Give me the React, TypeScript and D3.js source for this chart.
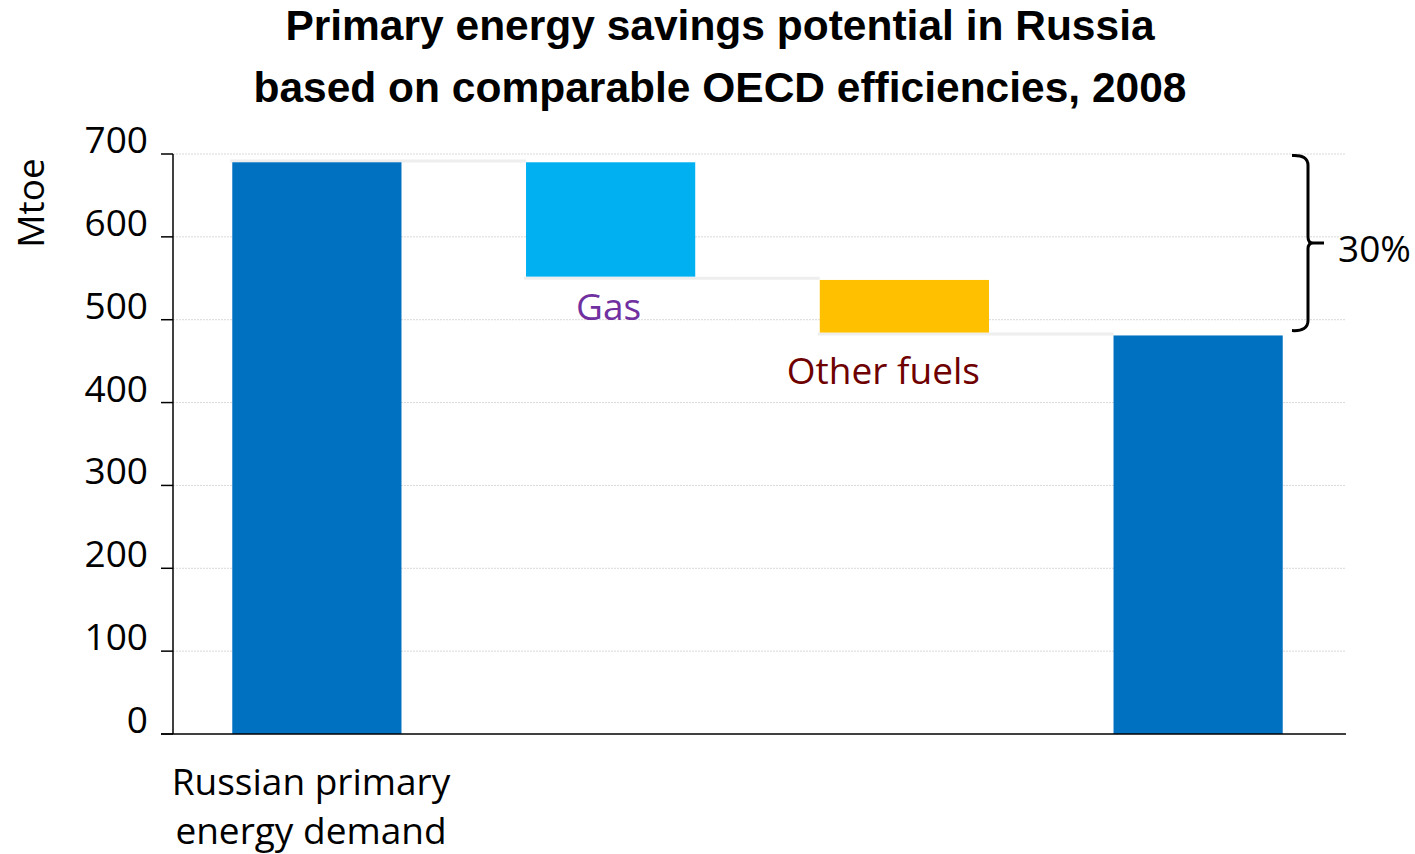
import React from "react";
import * as d3 from "d3";

const titleLines = [
  "Primary energy savings potential in Russia",
  "based on comparable OECD efficiencies, 2008",
];
const categories = ["start", "gas", "other", "end"];
const barTops = [690, 690, 548, 481];
const barBottoms = [0, 552, 484.5, 0];
const barColors = ["#0070C0", "#00B0F0", "#FFC000", "#0070C0"];
const connectorLevels = [691.5, 550, 482.7];
const yTicks = [0, 100, 200, 300, 400, 500, 600, 700];
const firstCategoryLabel = ["Russian primary", "energy demand"];
const barLabels = [
  { cat: "gas", text: "Gas", color: "#7030A0", value: 552 },
  { cat: "other", text: "Other fuels", color: "#6E0000", value: 484.5 },
];
const savingsLabel = "30%";
const yAxisTitle = "Mtoe";

const W = 1415;
const H = 854;
const plotLeft = 173;
const plotRight = 1346;
const plotTop = 154;
const plotBottom = 734;
const bodyFont = "'Open Sans', 'Noto Sans', sans-serif";
const labelOffsets: Record<string, [number, number]> = {
  gas: [-2, 43],
  other: [-21, 51],
};

export default function App() {
  const x = d3
    .scaleBand<string>()
    .domain(categories)
    .range([170, 1345])
    .paddingInner(0.424)
    .paddingOuter(0.212);
  const y = d3.scaleLinear().domain([0, 700]).range([plotBottom, plotTop]);
  const bw = x.bandwidth();

  const by0 = y(700) + 1.5;
  const by1 = y(barBottoms[2]) - 2;
  const bmid = (by0 + by1) / 2;
  const bxX = 1308;

  return (
    <svg
      width={W}
      height={H}
      style={{ position: "absolute", left: 0, top: 0, background: "#fff" }}
    >
      {titleLines.map((t, i) => (
        <text
          key={t}
          x={720}
          y={40 + i * 62}
          textAnchor="middle"
          fontFamily="'Liberation Sans', Arial, sans-serif"
          fontWeight="bold"
          fontSize={42.5}
          fill="#000"
        >
          {t}
        </text>
      ))}

      {yTicks
        .filter((v) => v > 0)
        .map((v) => (
          <line
            key={"g" + v}
            x1={plotLeft}
            x2={plotRight}
            y1={y(v)}
            y2={y(v)}
            stroke="#d9d9d9"
            strokeWidth={1}
            strokeDasharray="2,1"
          />
        ))}

      {connectorLevels.map((lv, i) => (
        <line
          key={"c" + i}
          x1={(x(categories[i]) as number) - 2}
          x2={x(categories[i + 1]) as number}
          y1={y(lv)}
          y2={y(lv)}
          stroke="#eeeeee"
          strokeWidth={3}
        />
      ))}

      {categories.map((c, i) => (
        <rect
          key={c}
          x={x(c) as number}
          width={bw}
          y={y(barTops[i])}
          height={y(barBottoms[i]) - y(barTops[i])}
          fill={barColors[i]}
        />
      ))}

      <line x1={plotLeft} x2={plotLeft} y1={plotTop} y2={plotBottom} stroke="#000" strokeWidth={1.5} />
      <line x1={161} x2={plotRight} y1={plotBottom} y2={plotBottom} stroke="#000" strokeWidth={1.5} />
      {yTicks.map((v) => (
        <g key={"t" + v}>
          <line x1={161} x2={plotLeft} y1={y(v)} y2={y(v)} stroke="#000" strokeWidth={1.5} />
          <text
            x={148}
            y={y(v) - 1}
            textAnchor="end"
            fontFamily={bodyFont}
            fontSize={37}
            fill="#000"
          >
            {v}
          </text>
        </g>
      ))}

      <text
        transform={`translate(44,203) rotate(-90)`}
        textAnchor="middle"
        fontFamily={bodyFont}
        fontSize={37}
        fill="#000"
      >
        {yAxisTitle}
      </text>

      {firstCategoryLabel.map((t, i) => (
        <text
          key={t}
          x={311}
          y={795 + i * 49}
          textAnchor="middle"
          fontFamily={bodyFont}
          fontSize={37}
          fill="#000"
        >
          {t}
        </text>
      ))}

      {barLabels.map((l) => (
        <text
          key={l.text}
          x={(x(l.cat) as number) + bw / 2 + labelOffsets[l.cat][0]}
          y={y(l.value) + labelOffsets[l.cat][1]}
          textAnchor="middle"
          fontFamily={bodyFont}
          fontSize={37}
          fill={l.color}
        >
          {l.text}
        </text>
      ))}

      <path
        d={`M1292,${by0} Q${bxX},${by0 - 1} ${bxX},${by0 + 10} L${bxX},${bmid - 6} Q${bxX},${bmid} ${bxX + 5},${bmid} L${bxX + 16},${bmid} M${bxX + 5},${bmid} Q${bxX},${bmid} ${bxX},${bmid + 6} L${bxX},${by1 - 10} Q${bxX},${by1 + 1} 1292,${by1}`}
        fill="none"
        stroke="#000"
        strokeWidth={3}
      />
      <text x={1338} y={262} fontFamily={bodyFont} fontSize={37} fill="#000">
        {savingsLabel}
      </text>
    </svg>
  );
}
